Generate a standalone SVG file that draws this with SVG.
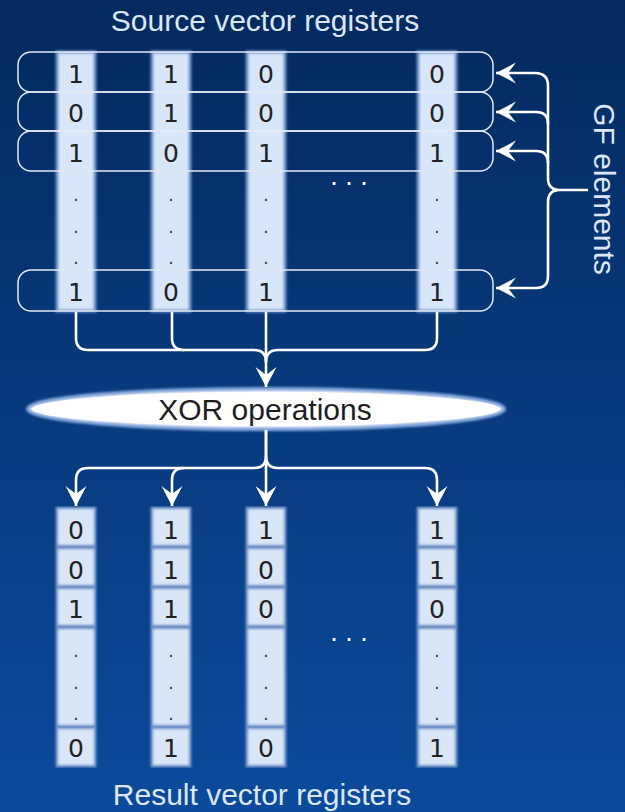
<svg xmlns="http://www.w3.org/2000/svg" width="625" height="812" viewBox="0 0 625 812">
  <defs>
    <linearGradient id="bg" x1="0" y1="0" x2="0" y2="1">
      <stop offset="0" stop-color="#042a5f"/>
      <stop offset="1" stop-color="#0b4a9c"/>
    </linearGradient>
    <filter id="soft" x="-10%" y="-5%" width="120%" height="110%">
      <feGaussianBlur stdDeviation="0.8"/>
    </filter>
    <filter id="rim" x="-5%" y="-40%" width="110%" height="180%">
      <feGaussianBlur stdDeviation="1.3"/>
    </filter>
    <marker id="head" markerUnits="userSpaceOnUse" markerWidth="24" markerHeight="24" viewBox="-21 -12 24 24" refX="0" refY="0" orient="auto">
      <path d="M0,0 L-20,-10.5 L-12,0 L-20,10.5 Z" fill="#ffffff"/>
    </marker>
    <style>
      .label { font-family: "Liberation Sans", Arial, sans-serif; font-size: 30px; fill: #dce7f6; text-anchor: middle; }
      .digit { font-family: "DejaVu Sans", sans-serif; font-size: 25px; fill: #222222; text-anchor: middle; }
      .dot { font-family: "DejaVu Sans", sans-serif; font-size: 17px; fill: #333333; text-anchor: middle; }
      .ellipsis { font-family: "Liberation Sans", Arial, sans-serif; font-size: 27px; fill: #ffffff; text-anchor: middle; }
      .col { fill: #d7e6f9; stroke: #6e91c8; stroke-width: 3; filter: url(#soft); }
      .cell { fill: #d9e6f8; stroke: #7f9ecf; stroke-width: 2.6; filter: url(#soft); }
      .reg { fill: none; stroke: #e2e9f4; stroke-width: 1.5; }
      .wire { fill: none; stroke: #ffffff; stroke-width: 2.6; }
      .xor { font-family: "Liberation Sans", Arial, sans-serif; font-size: 30px; fill: #1e1e1e; text-anchor: middle; }
    </style>
  </defs>

  <rect x="0" y="0" width="625" height="812" fill="url(#bg)"/>

  <!-- Source registers: four lanes crossed by register outlines -->
  <g id="source-registers">
    <text class="label" x="265" y="31">Source vector registers</text>
    <rect class="col" x="57" y="52" width="38" height="259"/>
    <rect class="col" x="152" y="52" width="38" height="259"/>
    <rect class="col" x="247" y="52" width="38" height="259"/>
    <rect class="col" x="418" y="52" width="38" height="259"/>

    <rect class="reg" x="18" y="52" width="475" height="40" rx="13"/>
    <rect class="reg" x="18" y="92" width="475" height="39" rx="13"/>
    <rect class="reg" x="18" y="131" width="475" height="40" rx="13"/>
    <rect class="reg" x="18" y="270" width="475" height="41" rx="13"/>

    <g class="digit">
      <text x="76" y="83">1</text><text x="171" y="83">1</text><text x="266" y="83">0</text><text x="437" y="83">0</text>
      <text x="76" y="122">0</text><text x="171" y="122">1</text><text x="266" y="122">0</text><text x="437" y="122">0</text>
      <text x="76" y="162">1</text><text x="171" y="162">0</text><text x="266" y="162">1</text><text x="437" y="162">1</text>
      <text x="76" y="301">1</text><text x="171" y="301">0</text><text x="266" y="301">1</text><text x="437" y="301">1</text>
    </g>
    <g class="dot">
      <text x="76" y="201">.</text><text x="76" y="233">.</text><text x="76" y="264">.</text>
      <text x="171" y="201">.</text><text x="171" y="233">.</text><text x="171" y="264">.</text>
      <text x="266" y="201">.</text><text x="266" y="233">.</text><text x="266" y="264">.</text>
      <text x="437" y="201">.</text><text x="437" y="233">.</text><text x="437" y="264">.</text>
    </g>
    <text class="ellipsis" x="349" y="185">. . .</text>
  </g>

  <!-- GF elements label -->
  <g id="gf-elements">
    <text class="label" transform="translate(594,189) rotate(90)" x="0" y="0">GF elements</text>
  </g>

  <!-- XOR node -->
  <g id="xor-operations">
    <ellipse cx="266" cy="409" rx="238" ry="20" fill="#ffffff" stroke="#86a9df" stroke-width="4" filter="url(#rim)"/>
    <ellipse cx="266" cy="409" rx="234" ry="17" fill="#ffffff"/>
    <text class="xor" x="265" y="420">XOR operations</text>
  </g>

  <!-- Result registers -->
  <g id="result-registers">
    <g id="result-lane-1">
      <rect class="cell" x="57" y="508" width="38" height="38"/>
      <rect class="cell" x="57" y="548" width="38" height="38"/>
      <rect class="cell" x="57" y="588" width="38" height="38"/>
      <rect class="cell" x="57" y="628" width="38" height="98"/>
      <rect class="cell" x="57" y="728" width="38" height="38"/>
    </g>
    <g id="result-lane-2">
      <rect class="cell" x="152" y="508" width="38" height="38"/>
      <rect class="cell" x="152" y="548" width="38" height="38"/>
      <rect class="cell" x="152" y="588" width="38" height="38"/>
      <rect class="cell" x="152" y="628" width="38" height="98"/>
      <rect class="cell" x="152" y="728" width="38" height="38"/>
    </g>
    <g id="result-lane-3">
      <rect class="cell" x="247" y="508" width="38" height="38"/>
      <rect class="cell" x="247" y="548" width="38" height="38"/>
      <rect class="cell" x="247" y="588" width="38" height="38"/>
      <rect class="cell" x="247" y="628" width="38" height="98"/>
      <rect class="cell" x="247" y="728" width="38" height="38"/>
    </g>
    <g id="result-lane-4">
      <rect class="cell" x="418" y="508" width="38" height="38"/>
      <rect class="cell" x="418" y="548" width="38" height="38"/>
      <rect class="cell" x="418" y="588" width="38" height="38"/>
      <rect class="cell" x="418" y="628" width="38" height="98"/>
      <rect class="cell" x="418" y="728" width="38" height="38"/>
    </g>
    <g class="digit">
      <text x="76" y="539">0</text><text x="171" y="539">1</text><text x="266" y="539">1</text><text x="437" y="539">1</text>
      <text x="76" y="579">0</text><text x="171" y="579">1</text><text x="266" y="579">0</text><text x="437" y="579">1</text>
      <text x="76" y="618">1</text><text x="171" y="618">1</text><text x="266" y="618">0</text><text x="437" y="618">0</text>
      <text x="76" y="757">0</text><text x="171" y="757">1</text><text x="266" y="757">0</text><text x="437" y="757">1</text>
    </g>
    <g class="dot">
      <text x="76" y="657">.</text><text x="76" y="689">.</text><text x="76" y="720">.</text>
      <text x="171" y="657">.</text><text x="171" y="689">.</text><text x="171" y="720">.</text>
      <text x="266" y="657">.</text><text x="266" y="689">.</text><text x="266" y="720">.</text>
      <text x="437" y="657">.</text><text x="437" y="689">.</text><text x="437" y="720">.</text>
    </g>
    <text class="ellipsis" x="349" y="641">. . .</text>
    <text class="label" x="262" y="805">Result vector registers</text>
  </g>

  <!-- Connectors -->
  <g id="connectors">
    <!-- brace pointing at each GF element row -->
    <path class="wire" d="M548 178 V86 Q548 73 535 73 H496" marker-end="url(#head)"/>
    <path class="wire" d="M548 124 Q548 112 536 112 H496" marker-end="url(#head)"/>
    <path class="wire" d="M548 163 Q548 151 536 151 H496" marker-end="url(#head)"/>
    <path class="wire" d="M548 202 V276 Q548 288 536 288 H496" marker-end="url(#head)"/>
    <path class="wire" d="M548 178 Q548 190 560 190 H588 M560 190 Q548 190 548 202"/>

    <!-- lanes gathered into the XOR node -->
    <path class="wire" d="M76 312 V338 Q76 350 88 350 H254 Q266 350 266 362"/>
    <path class="wire" d="M172 312 V338 Q172 350 184 350"/>
    <path class="wire" d="M437 312 V338 Q437 350 425 350 H278 Q266 350 266 362"/>
    <path class="wire" d="M266 312 V387" marker-end="url(#head)"/>

    <!-- XOR node fanned out to result lanes -->
    <path class="wire" d="M266 430 V456 Q266 468 254 468 H88 Q76 468 76 480 V506" marker-end="url(#head)"/>
    <path class="wire" d="M184 468 Q172 468 172 480 V506" marker-end="url(#head)"/>
    <path class="wire" d="M266 430 V506" marker-end="url(#head)"/>
    <path class="wire" d="M266 456 Q266 468 278 468 H425 Q437 468 437 480 V506" marker-end="url(#head)"/>
  </g>
</svg>
